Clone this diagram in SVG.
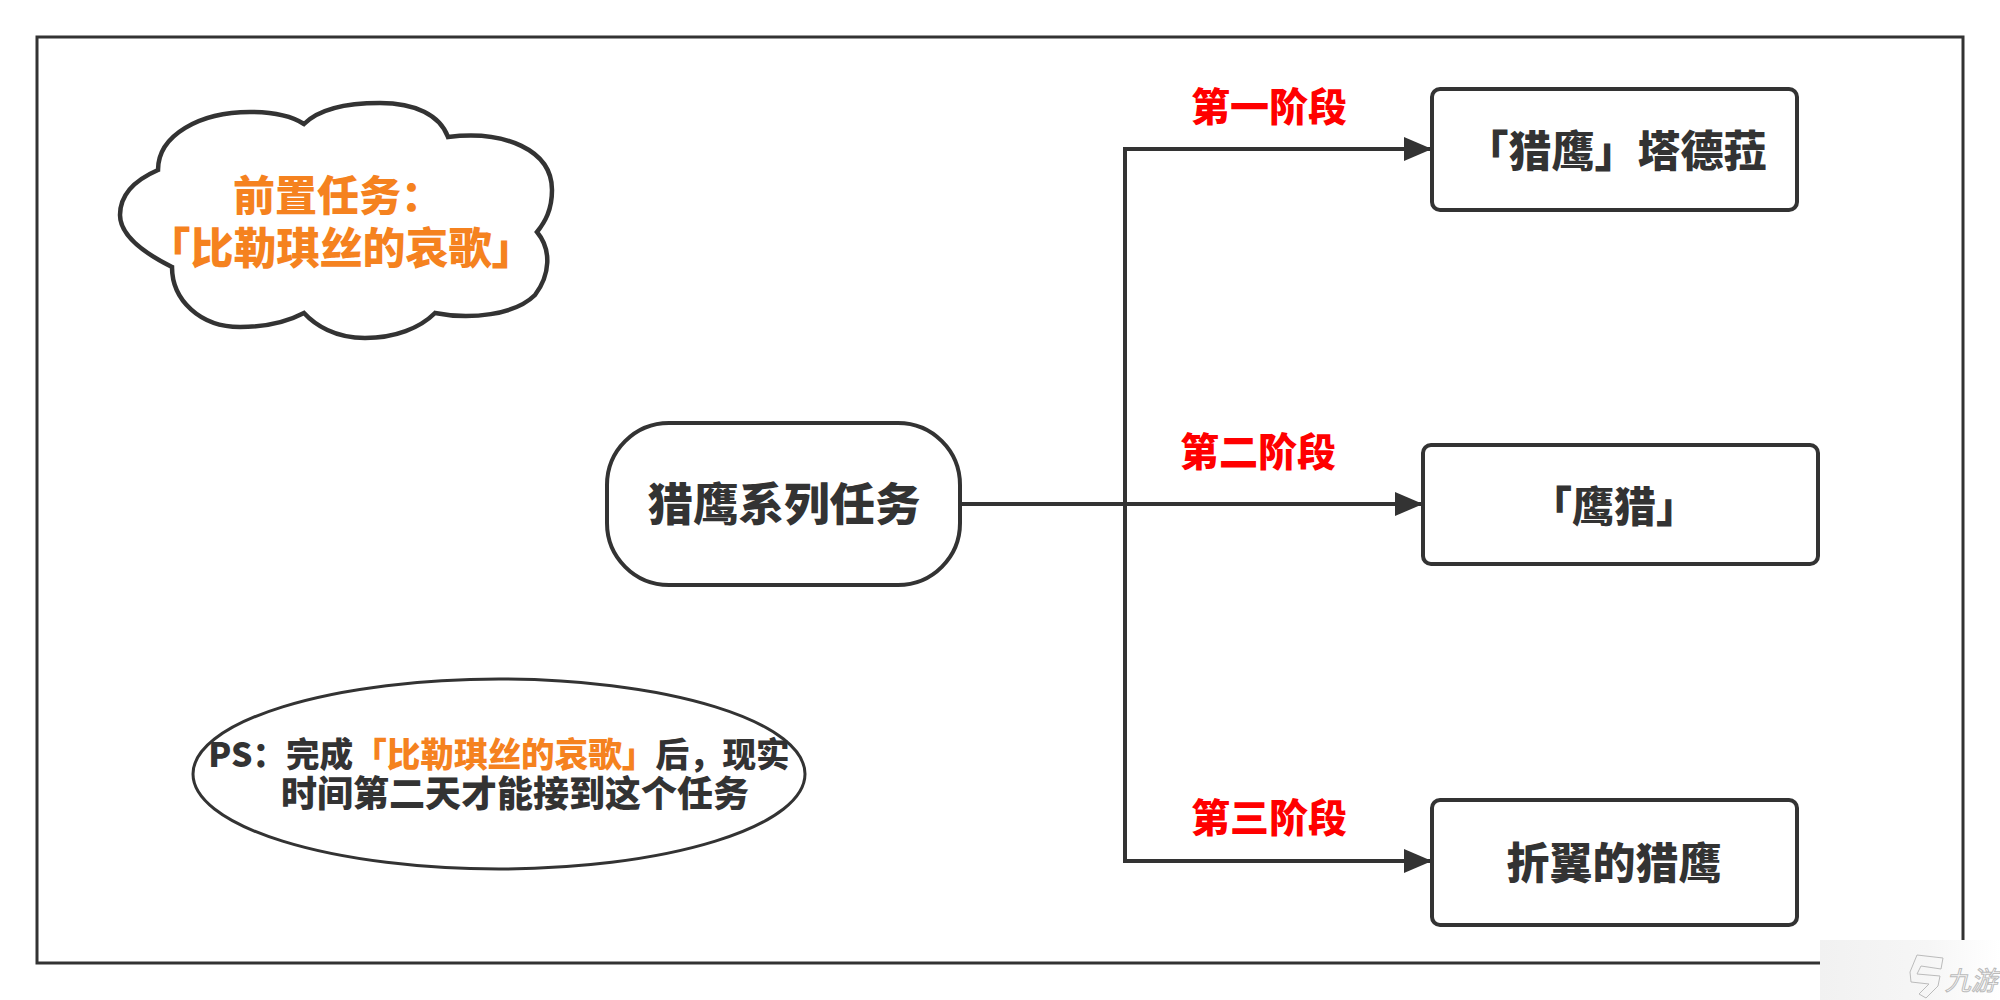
<svg xmlns="http://www.w3.org/2000/svg" width="2000" height="1000" viewBox="0 0 2000 1000">
<style>
text{font-family:"Noto Sans CJK SC","Liberation Sans",sans-serif;font-weight:900;fill:#333;text-anchor:middle}
.s{fill:#fff;stroke:#333;stroke-width:4}
.c{fill:none;stroke:#333;stroke-width:4}
.r{fill:#f00;font-size:39px}
.n{font-size:43px}
</style>
<defs>
<marker id="a" markerUnits="userSpaceOnUse" markerWidth="30" markerHeight="24" refX="28" refY="12" orient="auto"><path d="M0 0L28 12L0 24Z" fill="#333"/></marker>
<linearGradient id="w" x1="0" y1="0" x2="1" y2="0"><stop offset="0" stop-color="#f1f1f1"/><stop offset=".6" stop-color="#f6f6f6"/><stop offset="1" stop-color="#fff"/></linearGradient>
</defs>
<rect id="frame" x="37" y="37" width="1926" height="926" fill="#fff" stroke="#333" stroke-width="3"/>
<g id="connectors">
<path class="c" d="M960 504H1423" marker-end="url(#a)"/>
<path class="c" d="M1125 504V149H1432" marker-end="url(#a)"/>
<path class="c" d="M1125 504V861H1432" marker-end="url(#a)"/>
</g>
<g id="cloud">
<path class="s" style="stroke-width:4.5" d="M172 267C142 252 120 235 120 215C120 195 135 180 158 170C158 135 200 112 250 112C270 112 290 115 304 124C320 108 350 103 380 103C415 103 440 115 448 137C505 130 552 150 552 190C552 210 545 222 537 232C552 250 550 275 535 295C515 315 470 320 435 313C420 328 395 338 365 338C335 338 315 325 304 313C285 323 262 327 240 327C200 327 172 300 172 267Z"/>
<text style="fill:#f5821f"><tspan font-size="42" x="338" y="211">前置任务：</tspan><tspan font-size="43" x="341" y="264">「比勒琪丝的哀歌」</tspan></text>
</g>
<g id="main">
<rect class="s" x="607" y="423" width="353" height="162" rx="62" ry="62"/>
<text font-size="45.5" x="784" y="521">猎鹰系列任务</text>
</g>
<g id="note">
<ellipse class="s" style="stroke-width:3" cx="499" cy="774" rx="306" ry="95"/>
<text><tspan font-size="33.6" x="499" y="767">PS：完成<tspan style="fill:#f5821f">「比勒琪丝的哀歌」</tspan>后，现实</tspan><tspan font-size="36" x="515" y="807">时间第二天才能接到这个任务</tspan></text>
</g>
<g id="stage1">
<text class="r" x="1269" y="121">第一阶段</text>
<rect class="s" x="1432" y="89" width="365" height="121" rx="8"/>
<text class="n" x="1616" y="167">「猎鹰」塔德菈</text>
</g>
<g id="stage2">
<text class="r" x="1258" y="466">第二阶段</text>
<rect class="s" x="1423" y="445" width="395" height="119" rx="8"/>
<text font-size="42" x="1614" y="522">「鹰猎」</text>
</g>
<g id="stage3">
<text class="r" x="1269" y="832">第三阶段</text>
<rect class="s" x="1432" y="800" width="365" height="125" rx="8"/>
<text class="n" x="1614" y="879">折翼的猎鹰</text>
</g>
<g id="watermark">
<rect x="1820" y="940" width="180" height="60" fill="url(#w)"/>
<path d="M1917 955L1943 958L1941 969L1921 966L1917 974L1940 976L1938 986L1926 998L1919 994L1929 984L1911 982L1910 972Z" fill="none" stroke="#bbb" stroke-width="1"/>
<text x="1971" y="990" font-size="26" style="fill:none;stroke:#bbb;stroke-width:1;font-style:italic;font-weight:400">九游</text>
</g>
</svg>
